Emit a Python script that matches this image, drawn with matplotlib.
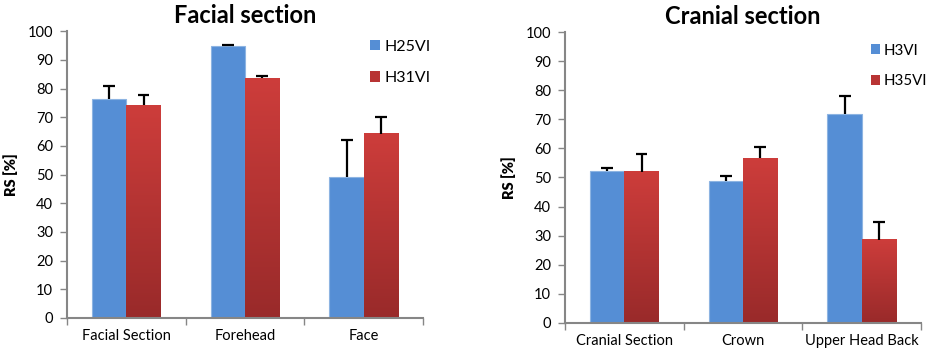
import matplotlib
matplotlib.use("Agg")
import matplotlib.pyplot as plt
import numpy as np
from matplotlib.patches import Patch
from matplotlib.colors import LinearSegmentedColormap

plt.rcParams['font.family'] = ['Lato', 'DejaVu Sans']

# Data
left_title = "Facial section"
left_cats = ["Facial Section", "Forehead", "Face"]
left_series = ["H25VI", "H31VI"]
left_blue = [76.4, 94.7, 49.2]
left_blue_err = [4.4, 0.4, 13.0]
left_red = [74.1, 83.6, 64.3]
left_red_err = [3.6, 0.6, 5.6]

right_title = "Cranial section"
right_cats = ["Cranial Section", "Crown", "Upper Head Back"]
right_series = ["H3VI", "H35VI"]
right_blue = [52.1, 48.8, 71.8]
right_blue_err = [1.3, 1.6, 6.1]
right_red = [51.9, 56.7, 28.6]
right_red_err = [6.3, 3.7, 6.2]

yticks = [0, 10, 20, 30, 40, 50, 60, 70, 80, 90, 100]

BLUE = "#558ED5"
BLUE_EDGE = "#8DB4E2"
RED_TOP = "#CD3D3B"
RED_BOT = "#992A2A"
AXC = "#868686"
red_cmap = LinearSegmentedColormap.from_list("redgrad", [RED_BOT, RED_TOP])

W = 0.29
CAP = 0.05

fig = plt.figure(figsize=(9.30, 3.54), dpi=100)

def upper_err(ax, xs, vals, errs):
    tops = np.asarray(vals) + np.asarray(errs)
    ax.vlines(xs, vals, tops, color='black', linewidth=1.6, zorder=3)
    ax.hlines(tops, np.asarray(xs) - CAP, np.asarray(xs) + CAP, color='black', linewidth=1.6, zorder=3)

def panel(rect, title, cats, series, blue, blue_err, red, red_err, leg_xy, leg_fs):
    ax = fig.add_axes(rect)
    x = np.arange(len(cats))
    ax.bar(x - W / 2, blue, W, color=BLUE, edgecolor=BLUE_EDGE, linewidth=0.8, zorder=2)
    grad = np.linspace(0, 1, 256).reshape(-1, 1)
    for xi, h in zip(x, red):
        ax.imshow(grad, cmap=red_cmap, origin='lower', aspect='auto',
                  extent=(xi, xi + W, 0, h), zorder=2)
    upper_err(ax, x - W / 2, blue, blue_err)
    upper_err(ax, x + W / 2, red, red_err)
    ax.set_xlim(-0.5, len(cats) - 0.5)
    ax.set_ylim(0, 100)
    for s in ['top', 'right']:
        ax.spines[s].set_visible(False)
    for s in ['left', 'bottom']:
        ax.spines[s].set_color(AXC)
        ax.spines[s].set_linewidth(1.5)
    ax.set_yticks(yticks)
    ax.set_yticklabels([str(v) for v in yticks], fontsize=10.5)
    ax.tick_params(axis='y', direction='out', length=5, width=1, color=AXC, pad=5)
    ax.set_xticks(x)
    ax.set_xticklabels(cats, fontsize=10.5)
    ax.tick_params(axis='x', length=0, pad=8)
    bounds = np.arange(len(cats) + 1) - 0.5
    ax.set_xticks(bounds, minor=True)
    ax.tick_params(axis='x', which='minor', direction='out', length=5, width=1, color=AXC)
    ax.set_ylabel("RS [%]", fontsize=10.5, fontweight='heavy', labelpad=7)
    ax.set_title(title, fontsize=17, fontweight='bold', pad=6)
    handles = [Patch(facecolor=BLUE, edgecolor='none'), Patch(facecolor="#B83434", edgecolor='none')]
    ax.legend(handles, series, loc='upper left', bbox_to_anchor=leg_xy, frameon=False,
              handlelength=0.65, handleheight=0.65, labelspacing=1.1, handletextpad=0.25,
              borderpad=0, borderaxespad=0, fontsize=leg_fs)
    return ax

panel([0.072, 0.102, 0.383, 0.81], left_title, left_cats, left_series,
      left_blue, left_blue_err, left_red, left_red_err, (0.85, 0.97), 11.5)
panel([0.6075, 0.0876, 0.383, 0.822], right_title, right_cats, right_series,
      right_blue, right_blue_err, right_red, right_red_err, (0.858, 0.96), 10.8)

fig.savefig("out.png", dpi=100)
